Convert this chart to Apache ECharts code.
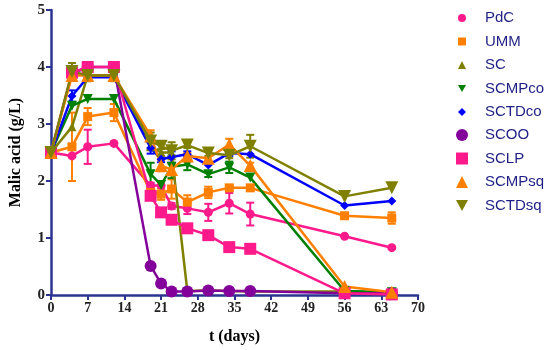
<!DOCTYPE html>
<html>
<head>
<meta charset="utf-8">
<script src="https://cdn.jsdelivr.net/npm/echarts@6/dist/echarts.min.js"></script>
<style>html,body{margin:0;padding:0;background:#fff}#c{width:550px;height:350px}</style>
</head>
<body>
<div id="c"></div>
<script>
const days = [0, 4, 7, 12, 19, 21, 23, 26, 30, 34, 38, 56, 65];
const xTicks = [0, 7, 14, 21, 28, 35, 42, 49, 56, 63, 70];
const yTicks = [0, 1, 2, 3, 4, 5];

const PdC    = [2.5, 2.44, 2.6, 2.66, 1.92, 1.92, 1.56, 1.52, 1.45, 1.61, 1.42, 1.03, 0.83];
const UMM    = [2.5, 2.6, 3.13, 3.2, 1.8, 1.77, 1.86, 1.63, 1.8, 1.88, 1.88, 1.39, 1.35];
const SC     = [2.5, 2.95, 3.85, 3.85, 2.6, 2.5, 2.5, 0.07, 0.08, 0.07, 0.06, 0.06, 0.04];
const SCMPco = [2.5, 3.32, 3.44, 3.44, 2.12, 1.93, 2.25, 2.29, 2.12, 2.24, 2.06, 0.07, 0.05];
const SCTDco = [2.5, 3.49, 3.82, 3.82, 2.58, 2.38, 2.42, 2.47, 2.28, 2.49, 2.47, 1.57, 1.65];
const SCOO   = [2.5, 3.88, 4.0, 4.0, 0.51, 0.2, 0.06, 0.06, 0.08, 0.07, 0.07, 0.03, 0.03];
const SCLP   = [2.5, 3.9, 4.0, 4.0, 1.74, 1.45, 1.32, 1.17, 1.05, 0.84, 0.81, 0.03, 0.01];
const SCMPsq = [2.5, 3.85, 3.85, 3.85, 2.79, 2.27, 2.2, 2.44, 2.4, 2.64, 2.27, 0.15, 0.05];
const SCTDsq = [2.5, 3.92, 3.85, 3.85, 2.7, 2.61, 2.53, 2.63, 2.49, 2.45, 2.61, 1.73, 1.88];

// error bar half-widths (SD)
const errPdC    = [0, 0, 0.3, 0, 0.05, 0, 0.05, 0.1, 0.15, 0.18, 0.2, 0, 0];
const errUMM    = [0, 0.6, 0.15, 0.15, 0.1, 0.1, 0.17, 0.12, 0.1, 0.05, 0.05, 0.05, 0.1];
const errSC     = [0, 0, 0, 0, 0, 0, 0, 0, 0, 0, 0, 0, 0];
const errSCMPco = [0, 0, 0, 0, 0.2, 0, 0.2, 0.1, 0.05, 0.1, 0, 0, 0];
const errSCTDco = [0, 0.1, 0.05, 0.05, 0.1, 0.05, 0.1, 0.05, 0, 0.05, 0, 0, 0];
const errSCOO   = [0, 0, 0, 0, 0, 0, 0, 0, 0, 0, 0, 0, 0];
const errSCLP   = [0, 0, 0, 0, 0, 0, 0, 0, 0, 0, 0, 0, 0];
const errSCMPsq = [0, 0.05, 0.05, 0.05, 0.1, 0.1, 0.1, 0.05, 0, 0.1, 0.05, 0, 0];
const errSCTDsq = [0, 0.15, 0.1, 0.1, 0.15, 0.05, 0.15, 0.05, 0.05, 0.05, 0.2, 0, 0];

const names = ['PdC', 'UMM', 'SC', 'SCMPco', 'SCTDco', 'SCOO', 'SCLP', 'SCMPsq', 'SCTDsq'];
const values = [PdC, UMM, SC, SCMPco, SCTDco, SCOO, SCLP, SCMPsq, SCTDsq];
const errs = [errPdC, errUMM, errSC, errSCMPco, errSCTDco, errSCOO, errSCLP, errSCMPsq, errSCTDsq];

const DOWN = 'path://M0,0L10,0L5,9Z';
const styles = [
  {color: '#ff1a8c', symbol: 'circle', size: 9},
  {color: '#ff8000', symbol: 'rect', size: 9},
  {color: '#808000', symbol: 'triangle', size: 9},
  {color: '#008000', symbol: DOWN, size: 10},
  {color: '#0000ff', symbol: 'diamond', size: 9},
  {color: '#84009a', symbol: 'circle', size: 12},
  {color: '#ff1a8c', symbol: 'rect', size: 12},
  {color: '#ff8000', symbol: 'triangle', size: 13},
  {color: '#808000', symbol: DOWN, size: 13}
];

const axisColor = '#2b3490';
const serif = '"Liberation Serif", "Times New Roman", serif';
const sans = '"Liberation Sans", Arial, sans-serif';

const series = [];
names.forEach((n, i) => {
  const st = styles[i];
  series.push({
    type: 'custom',
    z: 2,
    silent: true,
    data: days.map((d, j) => [d, values[i][j], errs[i][j]]),
    encode: {x: 0, y: 1},
    renderItem: function (params, api) {
      const e = api.value(2);
      if (!e) return null;
      const x = api.value(0), y = api.value(1);
      const t = api.coord([x, y + e]);
      const b = api.coord([x, y - e]);
      const h = 4;
      const s = {stroke: st.color, lineWidth: 2};
      return {type: 'group', children: [
        {type: 'line', shape: {x1: t[0], y1: t[1], x2: b[0], y2: b[1]}, style: s},
        {type: 'line', shape: {x1: t[0] - h, y1: t[1], x2: t[0] + h, y2: t[1]}, style: s},
        {type: 'line', shape: {x1: b[0] - h, y1: b[1], x2: b[0] + h, y2: b[1]}, style: s}
      ]};
    }
  });
});
names.forEach((n, i) => {
  const st = styles[i];
  series.push({
    name: n,
    type: 'line',
    z: 3,
    data: days.map((d, j) => [d, values[i][j]]),
    symbol: st.symbol,
    symbolSize: st.size,
    showAllSymbol: true,
    itemStyle: {color: st.color},
    lineStyle: {color: st.color, width: 2.5},
    animation: false
  });
});

const legendBase = {
  orient: 'vertical',
  itemGap: 7.5,
  selectedMode: false,
  textStyle: {fontFamily: sans, fontSize: 15, color: '#1f1f85', lineHeight: 16}
};

const option = {
  animation: false,
  grid: {left: 48, right: 132, top: 10, bottom: 54},
  legend: [
    Object.assign({}, legendBase, {
      left: 453, top: 5, itemWidth: 8, itemHeight: 8,
      textStyle: Object.assign({}, legendBase.textStyle, {padding: [0, 0, 0, 14]}),
      data: names.slice(0, 5).map((n, i) => ({name: n, icon: styles[i].symbol}))
    }),
    Object.assign({}, legendBase, {
      left: 451, top: 122, itemWidth: 12, itemHeight: 12,
      textStyle: Object.assign({}, legendBase.textStyle, {padding: [0, 0, 0, 12]}),
      data: names.slice(5).map((n, i) => ({name: n, icon: styles[i + 5].symbol}))
    })
  ],
  xAxis: {
    type: 'value', min: xTicks[0], max: xTicks[xTicks.length - 1], interval: 7,
    name: 't (days)', nameLocation: 'middle', nameGap: 34,
    nameTextStyle: {fontFamily: serif, fontWeight: 'bold', fontSize: 16, color: '#000'},
    axisLine: {lineStyle: {color: axisColor, width: 2.5}},
    axisTick: {length: 5, lineStyle: {color: axisColor, width: 2}},
    axisLabel: {fontFamily: serif, fontWeight: 'bold', fontSize: 14, color: '#222', margin: 6},
    splitLine: {show: false}
  },
  yAxis: {
    type: 'value', min: yTicks[0], max: yTicks[yTicks.length - 1], interval: 1,
    name: 'Malic acid (g/L)', nameLocation: 'middle', nameGap: 27,
    nameTextStyle: {fontFamily: serif, fontWeight: 'bold', fontSize: 16, color: '#000'},
    axisLine: {show: true, lineStyle: {color: axisColor, width: 2.5}},
    axisTick: {show: true, length: 5, lineStyle: {color: axisColor, width: 2}},
    axisLabel: {fontFamily: serif, fontWeight: 'bold', fontSize: 15, color: '#222', margin: 6},
    splitLine: {show: false}
  },
  series: series
};

const chart = echarts.init(document.getElementById('c'), null, {renderer: 'canvas'});
chart.setOption(option);
</script>
</body>
</html>
